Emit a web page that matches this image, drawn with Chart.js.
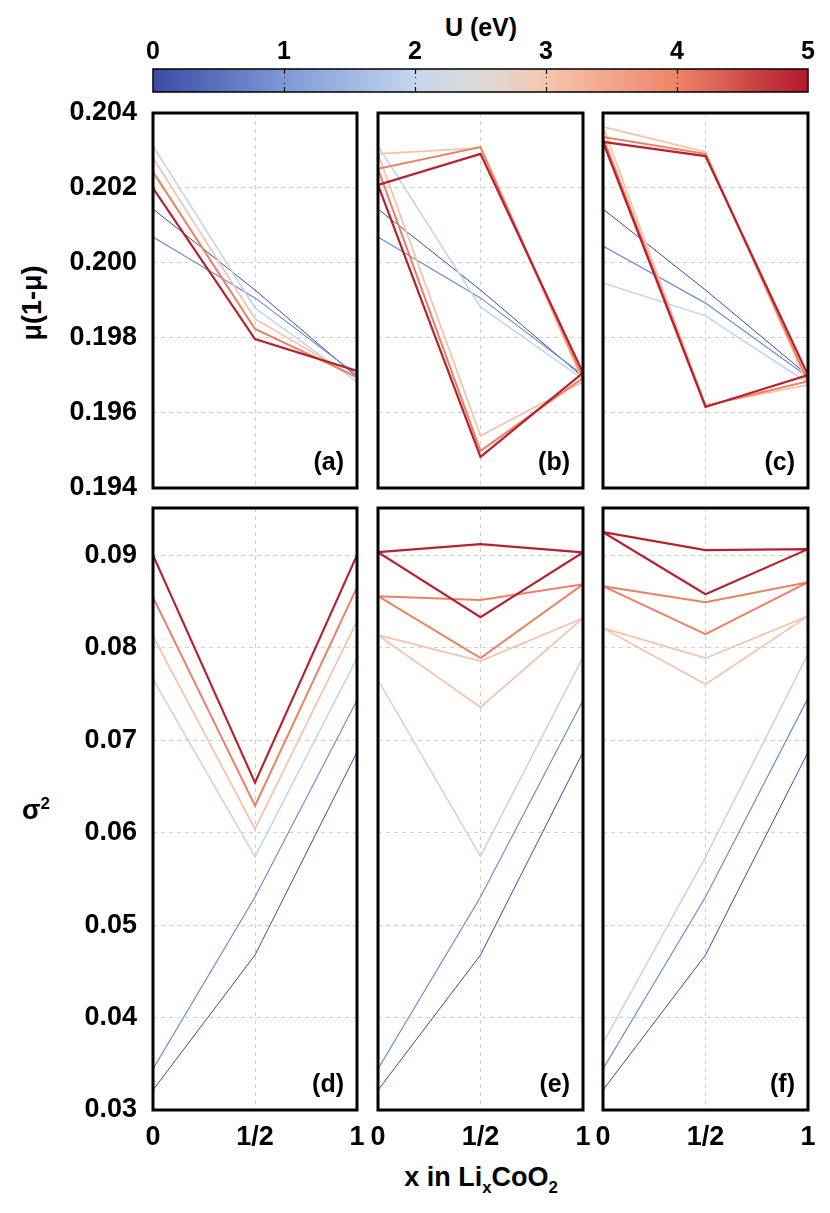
<!DOCTYPE html>
<html>
<head>
<meta charset="utf-8">
<script src="https://cdn.jsdelivr.net/npm/chart.js@4.4.1/dist/chart.umd.min.js"></script>
<style>
  body { margin: 0; background: #fff; width: 830px; height: 1213px; position: relative; overflow: hidden;
         font-family: 'Liberation Sans', Arial, Helvetica, sans-serif; font-weight: bold; color: #000; }
  canvas { position: absolute; }
  .lbl { position: absolute; white-space: nowrap; transform: translate(-50%, -50%); }
  sub, sup { font-size: 62%; }
</style>
</head>
<body>
<div class="lbl" style="left:481px; top:27px; font-size:25px;">U (eV)</div>
<div class="lbl" style="left:32px; top:303px; font-size:27px; transform: translate(-50%, -50%) rotate(-90deg);">&mu;(1-&mu;)</div>
<div class="lbl" style="left:36px; top:810px; font-size:27px;">&sigma;<sup>2</sup></div>
<div class="lbl" style="left:481px; top:1180px; font-size:27px;">x in Li<sub>x</sub>CoO<sub>2</sub></div>

<script>
// ---- data ----
const uValues = [0, 1, 2, 3, 4, 5];
const xPoints = [0, 0.5, 1];
const xTickLabels = ['0', '1/2', '1'];
const muTicks = [0.194, 0.196, 0.198, 0.200, 0.202, 0.204];
const sigmaTicks = [0.03, 0.04, 0.05, 0.06, 0.07, 0.08, 0.09];
const panelNames = ['(a)', '(b)', '(c)', '(d)', '(e)', '(f)'];

// each row is one U: value at x=0, x=1/2, x=1, second value at x=1/2 (null if none)
const muA = [
  [0.20144, 0.19928, 0.19696, null],
  [0.20069, 0.19907, 0.19701, null],
  [0.20312, 0.19880, 0.19683, null],
  [0.20280, 0.19851, 0.19693, null],
  [0.20243, 0.19824, 0.19696, null],
  [0.20200, 0.19797, 0.19712, null]
];
const muB = [
  [0.20144, 0.19928, 0.19696, null],
  [0.20069, 0.19907, 0.19701, null],
  [0.20312, 0.19883, 0.19690, null],
  [0.20291, 0.20307, 0.19683, 0.19539],
  [0.20251, 0.20309, 0.19693, 0.19499],
  [0.20208, 0.20291, 0.19707, 0.19483]
];
const muC = [
  [0.20144, 0.19928, 0.19700, null],
  [0.20045, 0.19893, 0.19696, null],
  [0.19947, 0.19859, 0.19680, null],
  [0.20363, 0.20296, 0.19675, 0.19621],
  [0.20336, 0.20291, 0.19685, 0.19619],
  [0.20323, 0.20285, 0.19701, 0.19616]
];
const sigmaD = [
  [0.03216, 0.04676, 0.06870, null],
  [0.03443, 0.05303, 0.07432, null],
  [0.07659, 0.05740, 0.07886, null],
  [0.08124, 0.06040, 0.08286, null],
  [0.08546, 0.06290, 0.08654, null],
  [0.09000, 0.06540, 0.09000, null]
];
const sigmaE = [
  [0.03216, 0.04676, 0.06870, null],
  [0.03443, 0.05303, 0.07432, null],
  [0.07649, 0.05746, 0.07897, null],
  [0.08135, 0.07854, 0.08319, 0.07357],
  [0.08557, 0.08514, 0.08686, 0.07886],
  [0.09032, 0.09119, 0.09030, 0.08330]
];
const sigmaF = [
  [0.03216, 0.04676, 0.06870, null],
  [0.03443, 0.05303, 0.07454, null],
  [0.03724, 0.05735, 0.07930, null],
  [0.08211, 0.07886, 0.08341, 0.07605],
  [0.08665, 0.08492, 0.08708, 0.08146],
  [0.09249, 0.09054, 0.09065, 0.08578]
];

// ---- styles ----
const FONT = "'Liberation Sans', Arial, Helvetica, sans-serif";
const lineColors = ['#3b4ba8', '#6e8ed0', '#c0d4f0', '#f6c1a8', '#ee8062', '#b8202f'];
const lineWidths = [1, 1.2, 1.5, 1.7, 2, 2.2];
const cmapStops = [0, 0.2, 0.4, 0.5, 0.6, 0.8, 1];
const cmapColors = ['#3a4aa6', '#7d99d5', '#c4d6f0', '#dddad7', '#f6c6ae', '#ee8468', '#b3172c'];

const colLeft = [153, 378, 603];
const colWidth = [204, 205, 205];
const rowTop = [113, 508];
const rowHeight = [375, 602];

Chart.defaults.font.family = FONT;
Chart.defaults.font.weight = 'bold';
Chart.defaults.color = '#000';

function addCanvas(x, y, w, h) {
  const c = document.createElement('canvas');
  c.width = w; c.height = h;
  c.style.left = x + 'px'; c.style.top = y + 'px';
  c.style.width = w + 'px'; c.style.height = h + 'px';
  document.body.appendChild(c);
  return c;
}

function loopPoints(row) {
  const pts = [{x: xPoints[0], y: row[0]}, {x: xPoints[1], y: row[1]}, {x: xPoints[2], y: row[2]}];
  if (row[3] !== null) {
    pts.push({x: xPoints[1], y: row[3]});
    pts.push({x: xPoints[0], y: row[0]});
  }
  return pts;
}

// keep the plot box exactly where the figure has it
function fixSize(s, w, h) {
  if (w !== null) s.width = w;
  if (h !== null) s.height = h;
  s.paddingTop = 0; s.paddingBottom = 0;
  s.paddingLeft = 0; s.paddingRight = 0;
}

const frameAndLabel = {
  id: 'frameAndLabel',
  afterDatasetsDraw(chart, args, opts) {
    const {ctx, chartArea: a} = chart;
    ctx.save();
    ctx.strokeStyle = '#000';
    ctx.lineWidth = 3;
    ctx.strokeRect(a.left, a.top, a.right - a.left, a.bottom - a.top);
    ctx.font = 'bold 25px ' + FONT;
    ctx.fillStyle = '#000';
    ctx.textAlign = 'right';
    ctx.textBaseline = 'bottom';
    ctx.fillText(opts.text, a.right - 13, a.bottom - 12);
    ctx.restore();
  }
};

function makePanel(row, col, data, ticks, idx) {
  const left = col === 0;
  const bottom = row === 1;
  const yW = left ? 153 : 16;
  const padR = 16;
  const padT = 20;
  const xH = bottom ? 60 : 20;
  const w = yW + colWidth[col] + padR;
  const h = padT + rowHeight[row] + xH;
  const canvas = addCanvas(colLeft[col] - yW, rowTop[row] - padT, w, h);
  const yMin = ticks[0];
  const yMax = bottom ? 0.0951 : ticks[ticks.length - 1];
  const decimals = bottom ? 2 : 3;

  new Chart(canvas.getContext('2d'), {
    type: 'scatter',
    data: {
      datasets: uValues.map((u, i) => ({
        label: 'U = ' + u,
        data: loopPoints(data[i]),
        showLine: true,
        borderColor: lineColors[i],
        backgroundColor: lineColors[i],
        borderWidth: lineWidths[i],
        pointRadius: 0,
        tension: 0,
        order: uValues.length - 1 - i
      }))
    },
    options: {
      responsive: false,
      animation: false,
      layout: { padding: { top: padT, right: padR, left: 0, bottom: 0 } },
      plugins: {
        legend: { display: false },
        tooltip: { enabled: false },
        frameAndLabel: { text: panelNames[idx] }
      },
      scales: {
        x: {
          type: 'linear', min: 0, max: 1,
          afterBuildTicks: s => { s.ticks = xPoints.map(v => ({ value: v })); },
          afterFit: s => fixSize(s, null, xH),
          ticks: {
            display: bottom, autoSkip: false, maxRotation: 0, padding: 11,
            font: { size: 27, weight: 'bold' },
            callback: v => { const k = xPoints.indexOf(v); return k >= 0 ? xTickLabels[k] : ''; }
          },
          grid: { color: '#cfcfcf', lineWidth: 1, drawTicks: false },
          border: { display: false, dash: [4, 4] }
        },
        y: {
          type: 'linear', min: yMin, max: yMax,
          afterBuildTicks: s => { s.ticks = ticks.map(v => ({ value: v })); },
          afterFit: s => fixSize(s, yW, null),
          ticks: {
            display: left, autoSkip: false, padding: 16,
            font: { size: 27, weight: 'bold' },
            callback: v => v.toFixed(decimals)
          },
          grid: { color: '#cfcfcf', lineWidth: 1, drawTicks: false },
          border: { display: false, dash: [4, 4] }
        }
      }
    },
    plugins: [frameAndLabel]
  });
}

const panelData = [muA, muB, muC, sigmaD, sigmaE, sigmaF];
for (let r = 0; r < 2; r++) {
  for (let c = 0; c < 3; c++) {
    makePanel(r, c, panelData[r * 3 + c], r === 0 ? muTicks : sigmaTicks, r * 3 + c);
  }
}

// ---- colour bar ----
const colorBar = {
  id: 'colorBar',
  beforeDatasetsDraw(chart) {
    const {ctx, chartArea: a, scales} = chart;
    ctx.save();
    const g = ctx.createLinearGradient(a.left, 0, a.right, 0);
    cmapStops.forEach((s, i) => g.addColorStop(s, cmapColors[i]));
    ctx.fillStyle = g;
    ctx.fillRect(a.left, a.top, a.right - a.left, a.bottom - a.top);
    ctx.strokeStyle = '#000';
    ctx.lineWidth = 1.5;
    ctx.strokeRect(a.left, a.top, a.right - a.left, a.bottom - a.top);
    ctx.lineWidth = 1.2;
    ctx.setLineDash([5, 3]);
    uValues.slice(1, -1).forEach(u => {
      const px = Math.round(scales.x.getPixelForValue(u)) + 0.5;
      ctx.beginPath();
      ctx.moveTo(px, a.top); ctx.lineTo(px, a.top + 9);
      ctx.moveTo(px, a.bottom); ctx.lineTo(px, a.bottom - 9);
      ctx.stroke();
    });
    ctx.restore();
  }
};

const cbCanvas = addCanvas(133, 20, 700, 85);
new Chart(cbCanvas.getContext('2d'), {
  type: 'scatter',
  data: { datasets: [{ data: uValues.map(u => ({ x: u, y: 0 })), pointRadius: 0 }] },
  options: {
    responsive: false,
    animation: false,
    layout: { padding: { top: 0, left: 20, right: 25, bottom: 13 } },
    plugins: { legend: { display: false }, tooltip: { enabled: false } },
    scales: {
      x: {
        type: 'linear', position: 'top', min: 0, max: 5,
        afterBuildTicks: s => { s.ticks = uValues.map(v => ({ value: v })); },
        afterFit: s => fixSize(s, null, 49),
        ticks: { padding: 2, autoSkip: false, maxRotation: 0, font: { size: 25, weight: 'bold' } },
        grid: { display: false, drawTicks: false },
        border: { display: false }
      },
      y: { display: false, min: -1, max: 1 }
    }
  },
  plugins: [colorBar]
});
</script>
</body>
</html>
